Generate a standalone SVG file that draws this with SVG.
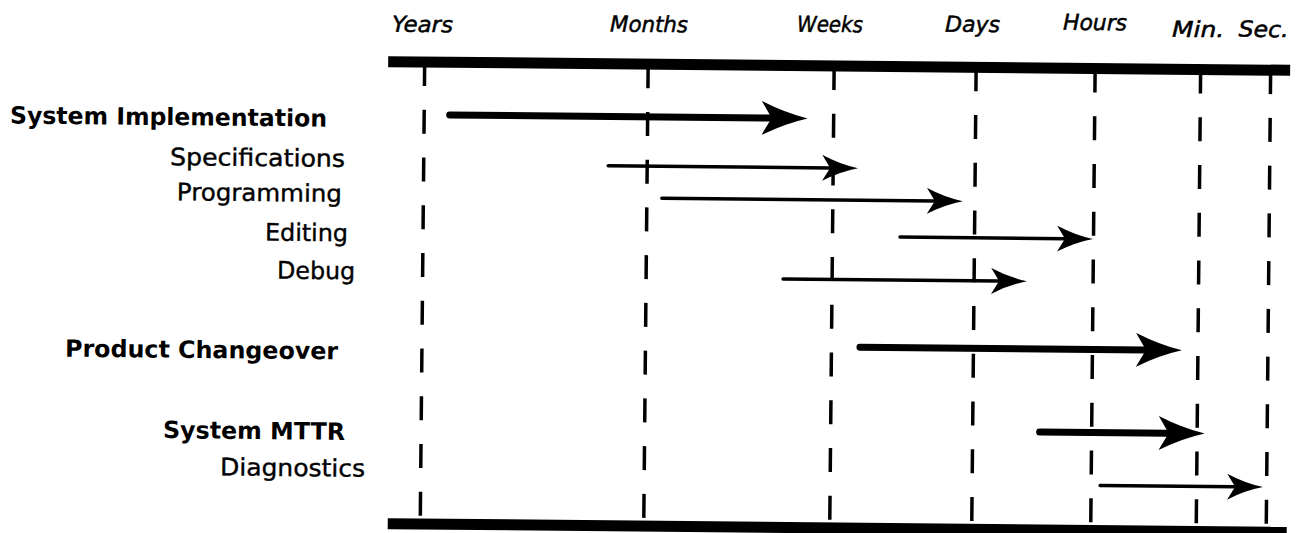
<svg xmlns="http://www.w3.org/2000/svg" width="1305" height="533" viewBox="0 0 1305 533">
<style>
.bar{fill:#000}
.grid{stroke:#000;stroke-width:3.5;stroke-dasharray:24 23.75;fill:none}
.hdr{font-family:"DejaVu Sans",Verdana,sans-serif;font-style:italic;font-size:22px;fill:#000;stroke:#000;stroke-width:0.5}
.lb{font-family:"DejaVu Sans",Verdana,sans-serif;font-size:24px;fill:#000;stroke:#000;stroke-width:0.4}
.lbb{font-family:"DejaVu Sans",Verdana,sans-serif;font-weight:bold;font-size:23.8px;fill:#000}
.thick{stroke:#000;stroke-width:7;stroke-linecap:round;fill:none;marker-end:url(#ahThick)}
.thin{stroke:#000;stroke-width:3.5;stroke-linecap:round;fill:none;marker-end:url(#ahThin)}
</style>
<defs>
<marker id="ahThick" markerUnits="userSpaceOnUse" viewBox="0 0 46 34" markerWidth="46" markerHeight="34" refX="10" refY="17" orient="auto"><path d="M0,0 Q24,12 46,17 Q24,22 0,34 L10,17 Z" fill="#000"/></marker>
<marker id="ahThin" markerUnits="userSpaceOnUse" viewBox="0 0 36 26" markerWidth="36" markerHeight="26" refX="8" refY="13" orient="auto"><path d="M0,0 Q18,9.5 36,13 Q18,16.5 0,26 L8,13 Z" fill="#000"/></marker>
</defs>
<rect width="1305" height="533" fill="#fff"/>
<g transform="rotate(0.55 840 290)">
<g id="axis">
<rect class="bar" x="386" y="60.5" width="902" height="11"/>
<rect class="bar" x="390" y="522.5" width="899" height="11"/>
<line class="grid" x1="422.5" y1="66" x2="422.5" y2="522"/>
<line class="grid" x1="646" y1="66" x2="646" y2="522"/>
<line class="grid" x1="832" y1="66" x2="832" y2="522"/>
<line class="grid" x1="974" y1="66" x2="974" y2="522"/>
<line class="grid" x1="1093" y1="66" x2="1093" y2="522"/>
<line class="grid" x1="1198.5" y1="66" x2="1198.5" y2="522"/>
<line class="grid" x1="1268.5" y1="66" x2="1268.5" y2="522"/>
</g>
<g id="scale-labels">
<text class="hdr" x="389.5" y="36" textLength="61" lengthAdjust="spacingAndGlyphs">Years</text>
<text class="hdr" x="607.5" y="33.8" textLength="78" lengthAdjust="spacingAndGlyphs">Months</text>
<text class="hdr" x="794.5" y="32.1" textLength="66" lengthAdjust="spacingAndGlyphs">Weeks</text>
<text class="hdr" x="942.5" y="30.7" textLength="55" lengthAdjust="spacingAndGlyphs">Days</text>
<text class="hdr" x="1060.5" y="27.6" textLength="64" lengthAdjust="spacingAndGlyphs">Hours</text>
<text class="hdr" x="1169.6" y="33.5" textLength="52" lengthAdjust="spacingAndGlyphs">Min.</text>
<text class="hdr" x="1236" y="32.8" textLength="50" lengthAdjust="spacingAndGlyphs">Sec.</text>
</g>
<g id="system-implementation"><text class="lbb" x="8.4" y="131.5" textLength="317" lengthAdjust="spacingAndGlyphs">System Implementation</text></g>
<g id="specifications"><text class="lb" x="168.8" y="171.6" textLength="175" lengthAdjust="spacingAndGlyphs">Specifications</text></g>
<g id="programming"><text class="lb" x="176" y="206.6" textLength="165" lengthAdjust="spacingAndGlyphs">Programming</text></g>
<g id="editing"><text class="lb" x="264.5" y="246.1" textLength="83" lengthAdjust="spacingAndGlyphs">Editing</text></g>
<g id="debug"><text class="lb" x="277" y="284" textLength="78" lengthAdjust="spacingAndGlyphs">Debug</text></g>
<g id="product-changeover"><text class="lbb" x="65.7" y="364.1" textLength="273" lengthAdjust="spacingAndGlyphs">Product Changeover</text></g>
<g id="system-mttr"><text class="lbb" x="164.4" y="444.6" textLength="182" lengthAdjust="spacingAndGlyphs">System MTTR</text></g>
<g id="diagnostics"><text class="lb" x="221.8" y="481.3" textLength="145" lengthAdjust="spacingAndGlyphs">Diagnostics</text></g>
<g id="connectors">
<line class="thick" x1="448" y1="118.7" x2="770" y2="118.7"/>
<line class="thin" x1="607" y1="168" x2="829" y2="168"/>
<line class="thin" x1="661" y1="200" x2="934" y2="200"/>
<line class="thin" x1="899.5" y1="236.5" x2="1064.5" y2="236.5"/>
<line class="thin" x1="783" y1="279.5" x2="999" y2="279.5"/>
<line class="thick" x1="860.5" y1="347" x2="1146.5" y2="347"/>
<line class="thick" x1="1041" y1="430" x2="1170" y2="430"/>
<line class="thin" x1="1102" y1="483" x2="1237" y2="483"/>
</g>
</g>
</svg>
